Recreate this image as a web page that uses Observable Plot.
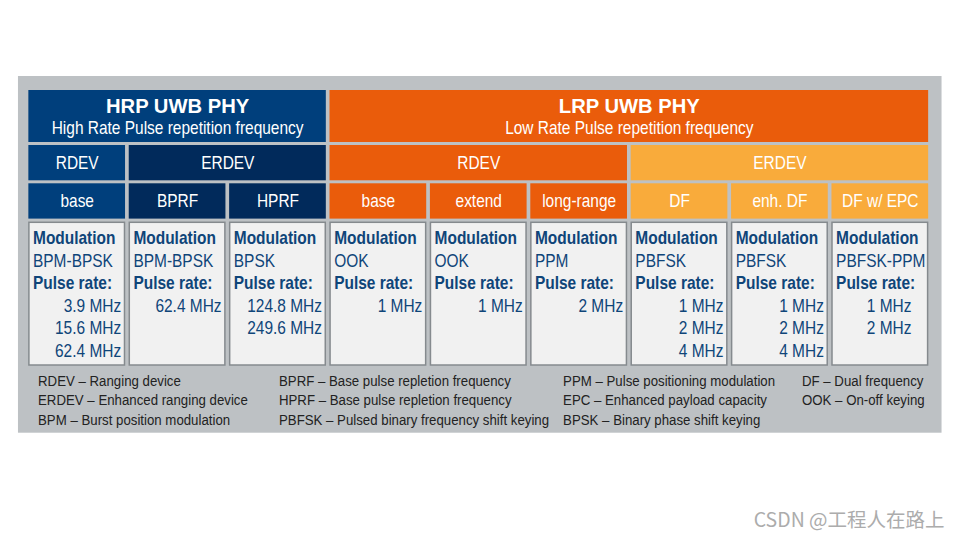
<!DOCTYPE html>
<html><head><meta charset="utf-8">
<script src="https://cdn.jsdelivr.net/npm/d3@7"></script>
<script src="https://cdn.jsdelivr.net/npm/@observablehq/plot@0.6"></script>
<style>html,body{margin:0;padding:0;background:#fff}svg{display:block}</style>
</head><body><div id="c"></div>
<script>
const phyTitles = ["HRP UWB PHY", "LRP UWB PHY"];
const phySubtitles = ["High Rate Pulse repetition frequency", "Low Rate Pulse repetition frequency"];
const phySpans = [[0, 3], [3, 9]];
const deviceLabels = ["RDEV", "ERDEV", "RDEV", "ERDEV"];
const deviceSpans = [[0, 1], [1, 3], [3, 6], [6, 9]];
const modeLabels = ["base", "BPRF", "HPRF", "base", "extend", "long-range", "DF", "enh. DF", "DF w/ EPC"];
const modulations = ["BPM-BPSK", "BPM-BPSK", "BPSK", "OOK", "OOK", "PPM", "PBFSK", "PBFSK", "PBFSK-PPM"];
const pulseRates = [
  ["3.9 MHz", "15.6 MHz", "62.4 MHz"], ["62.4 MHz"], ["124.8 MHz", "249.6 MHz"],
  ["1 MHz"], ["1 MHz"], ["2 MHz"],
  ["1 MHz", "2 MHz", "4 MHz"], ["1 MHz", "2 MHz", "4 MHz"], ["1 MHz", "2 MHz"]
];
const legendColumns = [
  ["RDEV – Ranging device", "ERDEV – Enhanced ranging device", "BPM – Burst position modulation"],
  ["BPRF – Base pulse repletion frequency", "HPRF – Base pulse repletion frequency", "PBFSK – Pulsed binary frequency shift keying"],
  ["PPM – Pulse positioning modulation", "EPC – Enhanced payload capacity", "BPSK – Binary phase shift keying"],
  ["DF – Dual frequency", "OOK – On-off keying"]
];
const legendAt = [0.11, 2.51, 5.34, 7.72];
const watermark = "CSDN @工程人在路上";

const BLUE = "#003f7c", NAVY = "#012a5b", ORANGE = "#ea5c0b", AMBER = "#f9ab3b", INK = "#0f4579", PANEL = "#bdc1c4";
const FONT = "'Liberation Sans', Arial, sans-serif";
const deviceFill = [BLUE, NAVY, ORANGE, AMBER];
const modeFill = i => i === 0 ? BLUE : i < 3 ? NAVY : i < 6 ? ORANGE : AMBER;
const rows = {head: [90, 142], dev: [145, 180.3], mode: [183.3, 218.6], box: [222.3, 365]};
const boxLines = [238, 260.5, 283, 305.5, 328, 351];
const legendLines = [380.5, 400, 419.5];

const phy = phyTitles.map((t, i) => ({t, s: phySubtitles[i], a: phySpans[i][0], b: phySpans[i][1]}));
const dev = deviceLabels.map((t, i) => ({t, a: deviceSpans[i][0], b: deviceSpans[i][1], f: deviceFill[i]}));
const mode = modeLabels.map((t, i) => ({t, a: i, b: i + 1, f: modeFill(i)}));
const rates = pulseRates.flatMap((r, i) => r.map((t, j) => ({t, c: i, y: boxLines[3 + j]})));
const legend = legendColumns.flatMap((c, i) => c.map((t, j) => ({t, x: legendAt[i], y: legendLines[j]})));
const inset = {insetLeft: 1.85, insetRight: 1.85};
const mid = d => (d.a + d.b) / 2;

const plot = Plot.plot({
  width: 960, height: 540, margin: 0,
  style: {fontFamily: FONT, background: "#fff", overflow: "visible"},
  x: {domain: [0, 9], range: [26.5, 930], axis: null},
  y: {domain: [0, 540], range: [0, 540], axis: null},
  marks: [
    Plot.rect([0], {x1: () => -0.085, x2: () => 9.115, y1: () => 76, y2: () => 432.7, fill: PANEL}),
    Plot.rect(phy, {x1: "a", x2: "b", y1: () => rows.head[0], y2: () => rows.head[1], fill: (d, i) => i ? ORANGE : BLUE, ...inset}),
    Plot.rect(dev, {x1: "a", x2: "b", y1: () => rows.dev[0], y2: () => rows.dev[1], fill: "f", ...inset}),
    Plot.rect(mode, {x1: "a", x2: "b", y1: () => rows.mode[0], y2: () => rows.mode[1], fill: "f", ...inset}),
    Plot.rect(mode, {x1: "a", x2: "b", y1: () => rows.box[0], y2: () => rows.box[1], fill: "#f1f1f1", stroke: "#858a8e", strokeWidth: 1.5, insetLeft: 2.4, insetRight: 2.4}),
    Plot.text(phy, {x: mid, y: () => 106, text: "t", fill: "#fff", fontSize: 20.2, fontWeight: "bold", className: "wide"}),
    Plot.text(phy, {x: mid, y: () => 127.5, text: "s", fill: "#fff", fontSize: 18}),
    Plot.text(dev, {x: mid, y: () => 163, text: "t", fill: "#fff", fontSize: 18}),
    Plot.text(mode, {x: mid, y: () => 201, text: "t", fill: "#fff", fontSize: 18}),
    Plot.text(modulations, {x: (d, i) => i, y: () => boxLines[0], text: () => "Modulation", fill: INK, fontSize: 18, fontWeight: "bold", textAnchor: "start", dx: 6}),
    Plot.text(modulations, {x: (d, i) => i, y: () => boxLines[1], text: d => d, fill: INK, fontSize: 18, textAnchor: "start", dx: 6}),
    Plot.text(modulations, {x: (d, i) => i, y: () => boxLines[2], text: () => "Pulse rate:", fill: INK, fontSize: 18, fontWeight: "bold", textAnchor: "start", dx: 6}),
    Plot.text(rates.filter(d => d.c < 8), {x: d => d.c + 1, y: "y", text: "t", fill: INK, fontSize: 18, textAnchor: "end", dx: -6.2}),
    Plot.text(rates.filter(d => d.c === 8), {x: d => d.c + 1, y: "y", text: "t", fill: INK, fontSize: 18, textAnchor: "end", dx: -19}),
    Plot.text(legend, {x: "x", y: "y", text: "t", fill: "#222", fontSize: 15.4, textAnchor: "start"}),
    Plot.text([watermark], {x: () => 9.14, y: () => 520, text: d => d, fill: "#acacac", fontSize: 19.5, fontFamily: "'Noto Sans CJK SC', sans-serif", textAnchor: "end", className: "wide"})
  ]
});
document.getElementById("c").appendChild(plot);
plot.querySelectorAll("text").forEach(t => {
  if (t.closest(".wide")) return;
  t.setAttribute("transform", (t.getAttribute("transform") || "") + " scale(0.86 1)");
});
</script></body></html>
